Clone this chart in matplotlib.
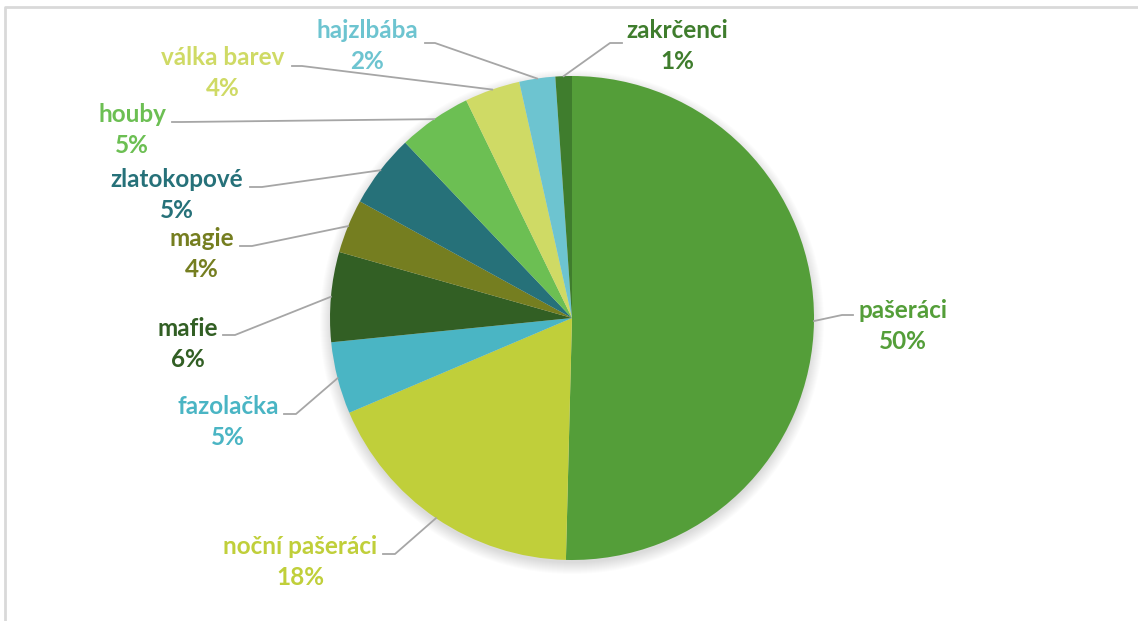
import matplotlib.pyplot as plt
import numpy as np
from matplotlib.patches import Circle

# data
names = ["pašeráci", "noční pašeráci", "fazolačka", "mafie", "magie",
         "zlatokopové", "houby", "válka barev", "hajzlbába", "zakrčenci"]
shares = [50.4, 18.2, 4.8, 6.0, 3.6, 4.9, 4.9, 3.7, 2.4, 1.1]
colors = ["#549E39", "#C0CF3A", "#4AB5C4", "#325F24", "#757E20",
          "#267179", "#6CBF53", "#CFDA65", "#6DC4D0", "#3F7D2D"]

# layout (pixel coords, y measured from top)
W, H = 1138, 621
cx, cy, r = 572, 318, 242
label_xy = [(903, 326), (300, 562), (228, 422), (188, 344), (202, 254),
            (177, 195), (132, 130), (223, 73), (367, 46), (677, 46)]
elbow = [(842, 315), (395, 554), (296, 414), (235, 335), (252, 246),
         (262, 187), (182, 122), (302, 66), (435, 43), (610, 43)]
tail = [(853, 315), (383, 554), (284, 414), (223, 335), (240, 246),
        (250, 187), (172, 122), (292, 66), (425, 43), (622, 43)]

plt.rcParams['font.family'] = ['Lato', 'DejaVu Sans']

fig = plt.figure(figsize=(W / 100, H / 100), dpi=100)
ax = fig.add_axes([0, 0, 1, 1])

def fy(y):
    return H - y

# frame lines of the chart area
ax.plot([5, 5, W], [0, fy(7), fy(7)], color="#D9D9D9", lw=2, solid_capstyle="butt")

# soft shadow under the pie
for k in range(12):
    ax.add_patch(Circle((cx, fy(cy) - 4), r + 10 - k, facecolor="#000000",
                        alpha=0.012, edgecolor="none", zorder=1))

wedges, _ = ax.pie(shares, colors=colors, startangle=90, counterclock=False,
                   center=(cx, fy(cy)), radius=r, frame=True,
                   wedgeprops=dict(linewidth=0, zorder=2))
ax.set_xlim(0, W)
ax.set_ylim(0, H)
ax.axis("off")

for i, w in enumerate(wedges):
    mid = np.deg2rad((w.theta1 + w.theta2) / 2)
    sx = cx + r * np.cos(mid)
    sy = fy(cy) + r * np.sin(mid)
    ex, ey = elbow[i]
    tx, ty = tail[i]
    ax.plot([sx, ex, tx], [sy, fy(ey), fy(ty)], color="#A6A6A6", lw=1.3, zorder=3)
    lx, ly = label_xy[i]
    ax.text(lx, fy(ly), "%s\n%d%%" % (names[i], round(shares[i])),
            ha="center", va="center", color=colors[i], fontsize=17.5,
            fontweight="bold", linespacing=1.4, zorder=4)

fig.savefig("out.png", dpi=100)
